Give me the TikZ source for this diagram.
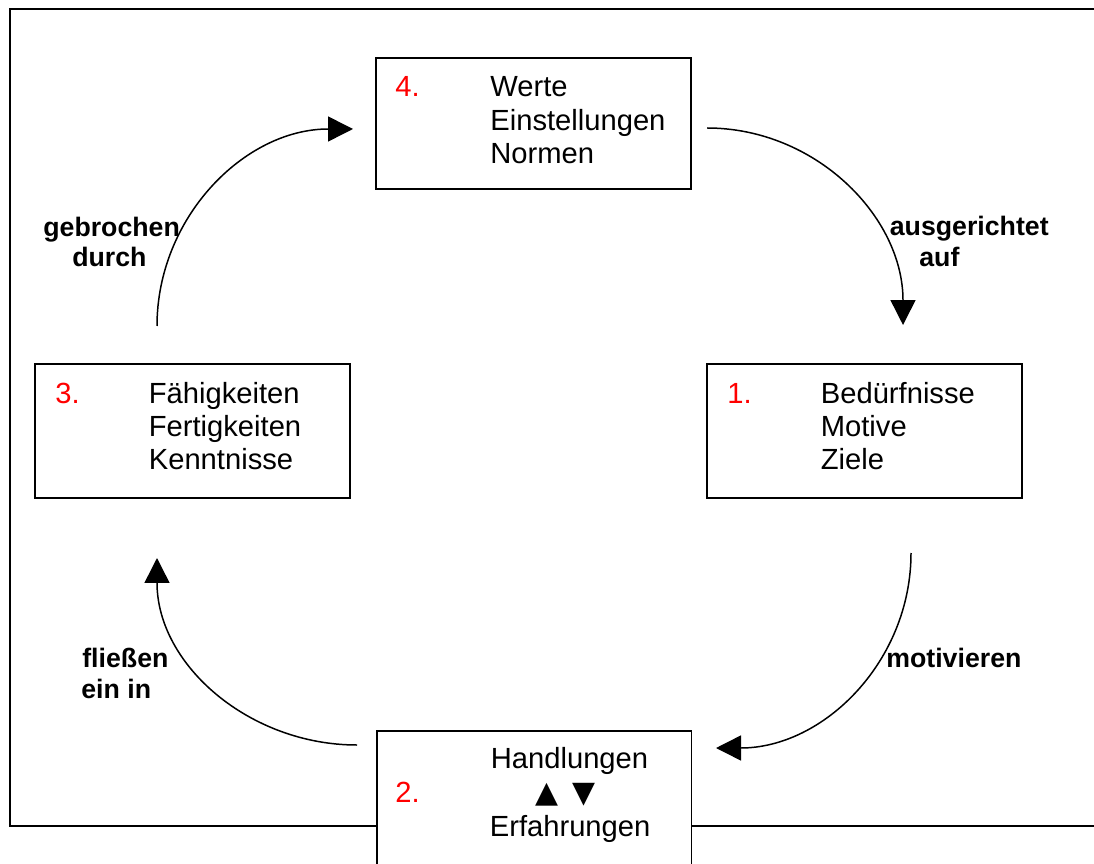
\documentclass[tikz,border=0pt]{standalone}
\usepackage{fontspec}
\setmainfont{Liberation Sans}
\newfontfamily\symfont{DejaVu Sans}
\usetikzlibrary{arrows.meta}

\begin{document}
\begin{tikzpicture}[x=0.02cm,y=0.02cm,
        box/.style={draw,line width=1.1pt,fill=white,inner sep=0pt,minimum width=6.3cm},
        num/.style={anchor=base west,inner sep=0pt,text=red,font=\fontsize{16.6}{20}\selectfont},
        item/.style={anchor=base west,inner sep=0pt,font=\fontsize{16.6}{20}\selectfont},
        tri/.style={anchor=base,inner sep=0pt,font=\symfont\fontsize{17}{20}\selectfont},
        lbl/.style={anchor=base west,inner sep=0pt,font=\fontsize{15.2}{18}\selectfont\bfseries},
        flow/.style={line width=0.85pt,-{Triangle[length=0.5cm,width=0.5cm]}}]
        \useasboundingbox (0,0) rectangle (1094,-864);
        % outer frame
        \draw[line width=1.1pt] (10,-9) rectangle (1120,-826);
        % boxes
        \node[box,minimum height=2.62cm] (werte) at (533.5,-123.5) {};
        \node[box,minimum height=2.68cm] (faehig) at (192.3,-431) {};
        \node[box,minimum height=2.68cm] (beduerf) at (864.5,-431) {};
        \node[box,minimum height=3.2cm] (handl) at (534,-811) {};
        % 4.
        \node[num] (n4) at (395,-97) {4.};
        \foreach \t [count=\i] in {Werte,Einstellungen,Normen}
            \node[item] (w\i) at (490,{-97-33.3*(\i-1)}) {\t};
        % 3.
        \node[num] (n3) at (55,-403) {3.};
        \foreach \t [count=\i] in {Fähigkeiten,Fertigkeiten,Kenntnisse}
            \node[item] (f\i) at (148.5,{-403-33.3*(\i-1)}) {\t};
        % 1.
        \node[num] (n1) at (727,-403) {1.};
        \foreach \t [count=\i] in {Bedürfnisse,Motive,Ziele}
            \node[item] (b\i) at (820.5,{-403-33.3*(\i-1)}) {\t};
        % 2.
        \node[num] (n2) at (395,-802) {2.};
        \node[item] (h1) at (490.5,-768) {Handlungen};
        \node[tri] (up) at (546.7,-802) {▲};
        \node[tri] (down) at (583.5,-802) {▼};
        \node[item] (h2) at (489.5,-836) {Erfahrungen};
        % connectors
        \coordinate (c1) at (157,-326);
        \coordinate (c2) at (353,-129);
        \coordinate (c3) at (707,-128);
        \coordinate (c4) at (903,-325);
        \coordinate (c5) at (911,-553);
        \coordinate (c6) at (716,-748);
        \coordinate (c7) at (357,-745);
        \coordinate (c8) at (157,-558);
        \draw[flow] (c1) to[out=90,in=180] (c2);
        \draw[flow] (c3) to[out=0,in=90] (c4);
        \draw[flow] (c5) to[out=-90,in=0] (c6);
        \draw[flow] (c7) to[out=180,in=-90] (c8);
        % labels
        \node[lbl] (l1) at (43,-237) {gebrochen};
        \node[lbl] (l2) at (72,-267) {durch};
        \node[lbl] (l3) at (889.5,-236) {ausgerichtet};
        \node[lbl] (l4) at (919,-267) {auf};
        \node[lbl] (l5) at (886,-667) {motivieren};
        \node[lbl] (l6) at (82,-667) {fließen};
        \node[lbl] (l7) at (81,-698) {ein in};
    \end{tikzpicture}
\end{document}
